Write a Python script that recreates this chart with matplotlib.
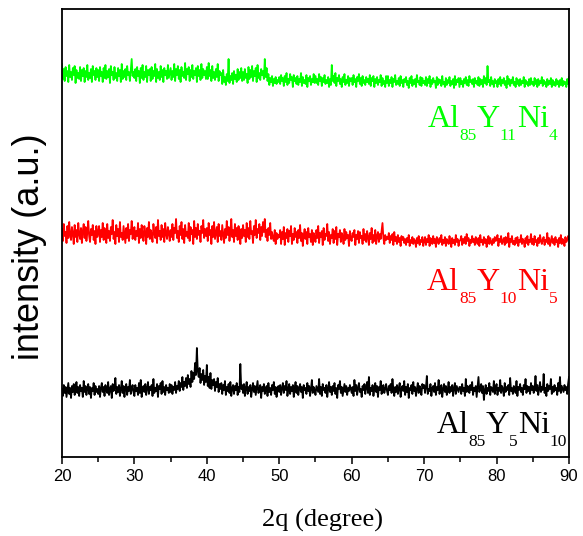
import numpy as np
import matplotlib
matplotlib.use("Agg")
from matplotlib import pyplot as plt

# scans run 20 ... 90 deg (2theta), 0.125 deg step; one row = 5 degrees
scan_start, scan_end = 20, 90

black_ni10 = [
    12, 5, 16, 8, 14, 4, 11, 18, 7, 13, 3, 15, 9, 17, 6, 12, 19, 8, 14, 5, 16, 10, 13, 4, 20, 9, 15, 6, 12, 17, 7, 14, 3, 13, 10, 18, 6, 15, 9, 12,
    7, 15, 4, 13, 18, 9, 14, 5, 16, 11, 8, 19, 6, 12, 15, 3, 17, 10, 13, 23, 7, 14, 9, 16, 5, 12, 20, 8, 15, 4, 13, 17, 6, 14, 10, 21, 7, 12, 16, 9,
    5, 16, 10, 13, 6, 18, 8, 21, 4, 12, 15, 9, 17, 6, 13, 19, 7, 14, 11, 16, 5, 22, 8, 13, 10, 17, 4, 15, 12, 18, 7, 20, 9, 14, 6, 16, 11, 13, 8, 17,
    9, 16, 7, 14, 11, 19, 8, 15, 12, 20, 10, 18, 14, 24, 11, 19, 15, 23, 13, 26, 17, 22, 14, 30, 19, 28, 22, 38, 26, 53, 30, 24, 33, 18, 27, 21, 31, 16, 25, 19,
    36, 15, 24, 13, 28, 12, 21, 16, 22, 10, 19, 14, 23, 9, 17, 12, 18, 7, 16, 11, 20, 6, 14, 10, 17, 8, 19, 5, 13, 16, 7, 15, 11, 18, 6, 14, 9, 37, 12, 16,
    8, 17, 5, 13, 19, 7, 14, 10, 16, 4, 12, 18, 9, 15, 6, 13, 20, 8, 11, 16, 3, 14, 10, 17, 7, 12, 15, 5, 18, 9, 13, 6, 16, 11, 19, 7, 14, 4, 12, 15,
    9, 16, 6, 13, 18, 8, 15, 11, 20, 5, 12, 17, 7, 14, 10, 16, 4, 13, 19, 8, 15, 6, 12, 17, 9, 14, 3, 16, 11, 13, 7, 18, 10, 15, 5, 12, 21, 8, 14, 11,
    6, 15, 12, 9, 22, 7, 14, 5, 17, 11, 13, 8, 16, 4, 12, 19, 9, 14, 6, 15, 10, 18, 7, 13, 3, 16, 12, 20, 8, 14, 5, 11, 17, 9, 15, 6, 13, 10, 16, 12,
    8, 14, 5, 21, 10, 16, 6, 13, 18, 9, 12, 4, 15, 11, 17, 7, 14, 19, 8, 24, 6, 13, 10, 16, 5, 12, 18, 9, 15, 4, 14, 11, 20, 7, 13, 16, 8, 12, 17, 10,
    6, 15, 11, 17, 8, 22, 12, 5, 14, 9, 16, 7, 13, 18, 4, 12, 15, 10, 20, 6, 14, 9, 17, 3, 13, 11, 16, 7, 19, 10, 14, 5, 12, 18, 8, 15, 11, 6, 17, 13,
    16, 8, 14, 25, 7, 12, 10, 17, 5, 13, 15, 9, 18, 6, 14, 11, 21, 7, 13, 16, 4, 12, 17, 9, 15, 6, 11, 19, 8, 14, 10, 16, 5, 13, 18, 7, 15, 12, 9, 14,
    14, 7, 17, 10, 13, 5, 22, 9, 15, 12, 8, 16, 11, 19, 6, 13, 10, 15, 4, 14, 24, 9, 12, 17, 8, 15, 1, 11, 16, 7, 13, 10, 18, 6, 14, 12, 9, 20, 7, 13,
    17, 6, 13, 10, 21, 8, 15, 12, 5, 18, 9, 14, 11, 16, 6, 23, 10, 13, 7, 15, 12, 8, 20, 5, 14, 11, 17, 9, 13, 6, 16, 12, 22, 8, 15, 10, 14, 7, 18, 11,
    15, 8, 13, 25, 10, 16, 6, 12, 19, 9, 14, 11, 27, 8, 13, 5, 17, 10, 15, 12, 22, 7, 14, 9, 16, 11, 13, 6, 18, 10, 24, 8, 15, 12, 9, 16, 11, 14, 7, 17,
    24,
]

red_ni5 = [
    28, 16, 33, 21, 25, 14, 31, 19, 35, 22, 17, 30, 24, 13, 32, 20, 27, 15, 34, 23, 18, 29, 14, 26, 33, 19, 30, 16, 24, 36, 21, 15, 28, 22, 32, 17, 26, 13, 31, 20,
    24, 31, 15, 27, 20, 34, 17, 29, 22, 14, 33, 19, 26, 16, 30, 23, 37, 18, 25, 13, 32, 21, 28, 15, 35, 20, 24, 17, 31, 22, 14, 29, 19, 33, 16, 27, 23, 36, 18, 25,
    30, 17, 26, 21, 34, 14, 28, 19, 32, 23, 16, 31, 25, 13, 29, 20, 35, 18, 27, 22, 15, 33, 24, 19, 30, 14, 37, 21, 26, 17, 32, 20, 28, 15, 34, 23, 18, 30, 24, 16,
    27, 20, 33, 17, 29, 24, 38, 19, 26, 15, 31, 22, 35, 18, 28, 14, 32, 21, 25, 19, 34, 16, 30, 23, 27, 13, 36, 20, 29, 18, 33, 22, 26, 15, 31, 24, 37, 19, 28, 21,
    29, 16, 34, 22, 27, 13, 31, 20, 35, 18, 24, 30, 15, 33, 21, 26, 17, 32, 23, 14, 28, 19, 36, 22, 30, 16, 25, 38, 20, 27, 15, 33, 21, 29, 17, 31, 24, 13, 28, 19,
    32, 21, 27, 15, 34, 20, 29, 18, 36, 23, 26, 14, 31, 22, 37, 19, 28, 24, 33, 17, 30, 21, 35, 25, 38, 20, 27, 16, 29, 22, 34, 18, 25, 19, 16, 27, 13, 24, 18, 22,
    20, 27, 13, 25, 18, 30, 12, 24, 19, 28, 15, 26, 21, 31, 13, 23, 17, 29, 20, 25, 14, 27, 19, 32, 16, 24, 11, 22, 28, 18, 25, 13, 29, 20, 23, 15, 27, 12, 24, 19,
    15, 27, 19, 31, 14, 24, 20, 26, 12, 29, 17, 23, 21, 33, 16, 25, 13, 22, 19, 28, 14, 26, 18, 30, 12, 23, 20, 27, 15, 24, 21, 13, 28, 17, 25, 19, 22, 11, 26, 18,
    16, 24, 20, 27, 12, 22, 18, 26, 14, 25, 19, 21, 13, 28, 17, 23, 15, 26, 20, 12, 24, 18, 29, 14, 22, 16, 27, 13, 21, 25, 15, 23, 18, 26, 34, 19, 13, 22, 17, 20,
    18, 24, 14, 21, 17, 23, 12, 25, 16, 20, 13, 22, 15, 19, 11, 21, 17, 20, 14, 18, 12, 19, 15, 22, 11, 17, 14, 20, 13, 18, 16, 10, 19, 14, 21, 12, 17, 15, 20, 11,
    16, 20, 12, 18, 15, 22, 11, 19, 17, 13, 21, 14, 18, 10, 20, 16, 13, 19, 15, 22, 12, 17, 14, 20, 11, 18, 16, 13, 21, 15, 10, 19, 14, 17, 12, 22, 15, 18, 11, 16,
    17, 21, 12, 18, 14, 20, 13, 23, 16, 19, 11, 17, 14, 21, 15, 18, 12, 20, 16, 13, 19, 11, 22, 15, 17, 12, 20, 14, 18, 10, 16, 21, 13, 19, 15, 12, 18, 14, 20, 16,
    17, 22, 11, 18, 15, 21, 13, 16, 19, 12, 20, 14, 17, 24, 10, 18, 15, 21, 13, 16, 12, 19, 14, 20, 11, 17, 15, 22, 13, 18, 16, 10, 19, 14, 21, 12, 17, 15, 23, 13,
    18, 12, 21, 15, 17, 11, 19, 14, 22, 16, 13, 18, 20, 12, 17, 15, 24, 13, 19, 11, 16, 21, 14, 18, 12, 20, 15, 17, 10, 19, 14, 22, 13, 18, 16, 11, 20, 15, 17, 21,
    18,
]

green_ni4 = [
    33, 18, 28, 16, 30, 21, 26, 15, 32, 20, 25, 17, 29, 22, 31, 14, 27, 19, 24, 18, 30, 16, 27, 21, 29, 15, 26, 20, 32, 17, 24, 19, 28, 15, 31, 22, 26, 17, 29, 20,
    27, 16, 30, 21, 25, 15, 29, 19, 32, 18, 26, 20, 28, 14, 31, 22, 25, 17, 30, 19, 24, 16, 29, 21, 27, 15, 33, 18, 26, 20, 28, 17, 31, 22, 25, 16, 27, 38, 21, 25,
    19, 28, 16, 30, 21, 26, 14, 29, 19, 32, 17, 25, 20, 31, 15, 27, 22, 28, 16, 30, 18, 26, 21, 33, 15, 28, 19, 25, 17, 31, 20, 27, 15, 29, 22, 26, 18, 32, 19, 24,
    29, 17, 26, 20, 33, 16, 28, 22, 31, 18, 27, 15, 30, 21, 25, 19, 34, 17, 28, 23, 30, 16, 27, 20, 32, 18, 26, 22, 29, 15, 31, 21, 27, 17, 33, 19, 28, 22, 26, 18,
    30, 18, 34, 21, 27, 16, 31, 19, 25, 17, 28, 20, 33, 16, 26, 22, 24, 13, 27, 15, 20, 12, 23, 16, 38, 14, 21, 17, 24, 13, 26, 18, 22, 15, 28, 17, 25, 19, 29, 16,
    25, 17, 28, 19, 23, 14, 30, 18, 27, 20, 31, 16, 26, 21, 29, 15, 32, 19, 24, 17, 28, 22, 26, 18, 38, 20, 29, 16, 23, 12, 19, 15, 21, 11, 18, 14, 20, 13, 17, 15,
    20, 13, 22, 16, 19, 11, 21, 15, 24, 12, 18, 14, 23, 17, 20, 10, 22, 16, 19, 13, 21, 12, 18, 15, 24, 11, 20, 14, 17, 13, 22, 10, 19, 16, 21, 12, 18, 15, 23, 14,
    21, 14, 18, 12, 23, 16, 20, 11, 19, 15, 22, 13, 17, 14, 20, 10, 18, 12, 32, 16, 21, 14, 24, 11, 19, 16, 22, 13, 18, 10, 20, 15, 23, 12, 17, 14, 21, 11, 19, 16,
    19, 12, 22, 15, 18, 10, 20, 16, 23, 13, 19, 11, 21, 14, 17, 12, 20, 15, 18, 13, 22, 11, 19, 16, 21, 10, 18, 14, 20, 12, 17, 15, 22, 11, 19, 13, 16, 10, 21, 14,
    21, 11, 17, 14, 20, 10, 18, 15, 22, 12, 16, 13, 19, 11, 21, 14, 17, 10, 18, 15, 20, 12, 16, 9, 19, 14, 21, 11, 17, 13, 18, 10, 22, 15, 16, 12, 20, 11, 19, 14,
    16, 12, 20, 11, 18, 14, 21, 10, 17, 13, 19, 15, 16, 9, 20, 12, 18, 14, 17, 11, 21, 13, 15, 10, 19, 12, 17, 14, 20, 11, 16, 13, 18, 9, 21, 12, 17, 15, 19, 10,
    19, 13, 16, 10, 18, 14, 20, 12, 17, 11, 21, 15, 17, 13, 18, 10, 19, 14, 16, 12, 20, 11, 18, 13, 17, 10, 21, 14, 19, 12, 31, 15, 17, 11, 20, 13, 16, 10, 18, 14,
    16, 10, 18, 13, 20, 11, 17, 14, 19, 12, 16, 9, 21, 13, 18, 11, 17, 14, 20, 12, 15, 10, 19, 13, 17, 11, 18, 12, 16, 14, 20, 10, 17, 13, 15, 11, 18, 12, 19, 13,
    15, 11, 19, 13, 17, 10, 18, 12, 16, 14, 20, 11, 17, 13, 15, 10, 18, 12, 16, 13, 19, 10, 17, 12, 15, 11, 18, 13, 16, 10, 17, 12, 19, 11, 16, 13, 15, 10, 18, 13,
    20,
]

labels_ni10 = [("Al", 0), ("85", 1), ("Y", 0), ("5", 1), ("Ni", 0), ("10", 1)]
labels_ni5 = [("Al", 0), ("85", 1), ("Y", 0), ("10", 1), ("Ni", 0), ("5", 1)]
labels_ni4 = [("Al", 0), ("85", 1), ("Y", 0), ("11", 1), ("Ni", 0), ("4", 1)]

plt.rcParams['font.family'] = ['Liberation Sans', 'DejaVu Sans']


def formula(ax, x, y, pieces, color):
    # composition label, right-aligned at (x, y), built piece by piece
    fig = ax.figure
    renderer = fig.canvas.get_renderer()
    dx = 0.0
    for text, is_sub in reversed(pieces):
        t = ax.annotate(text, xy=(x, y), xytext=(dx, -9.5 if is_sub else 0),
                        textcoords='offset points', ha='right', va='baseline',
                        fontsize=12.5 if is_sub else 23, color=color,
                        family='Liberation Serif', annotation_clip=False)
        dx -= t.get_window_extent(renderer).width * 72 / fig.dpi


def pattern(ax, y, offset, color):
    two_theta = np.linspace(scan_start, scan_end, len(y))
    ax.plot(two_theta, np.array(y) + offset, color=color, linewidth=1.3)


fig = plt.figure(figsize=(5.83, 5.36), dpi=100)
ax = fig.add_axes([0.1063, 0.1474, 0.8697, 0.8367])

pattern(ax, black_ni10, 56, 'black')
pattern(ax, red_ni5, 200, '#ff0000')
pattern(ax, green_ni4, 360, '#00ff00')

formula(ax, 89.75, 24, labels_ni10, 'black')
formula(ax, 88.4, 167, labels_ni5, '#ff0000')
formula(ax, 88.4, 330, labels_ni4, '#00ff00')

ax.set_xlim(20, 90)
ax.set_ylim(0, 448.5)
ax.set_xticks(np.arange(20, 91, 10))
ax.set_xticks(np.arange(25, 90, 10), minor=True)
ax.set_yticks([])
ax.tick_params(axis='x', which='major', direction='out', length=5, width=1.1,
               labelsize=12, pad=4)
ax.tick_params(axis='x', which='minor', direction='out', length=3.6, width=1.1)
for sp in ax.spines.values():
    sp.set_linewidth(1.3)

fig.text(323 / 583, 1 - 520 / 536, '2q (degree)', ha='center', va='center',
         fontsize=19, family='Liberation Serif')
fig.text(30 / 583, 1 - 247 / 536, 'intensity (a.u.)', rotation=90,
         ha='center', va='center', fontsize=26)

plt.savefig('out.png', dpi=100)
plt.close()
